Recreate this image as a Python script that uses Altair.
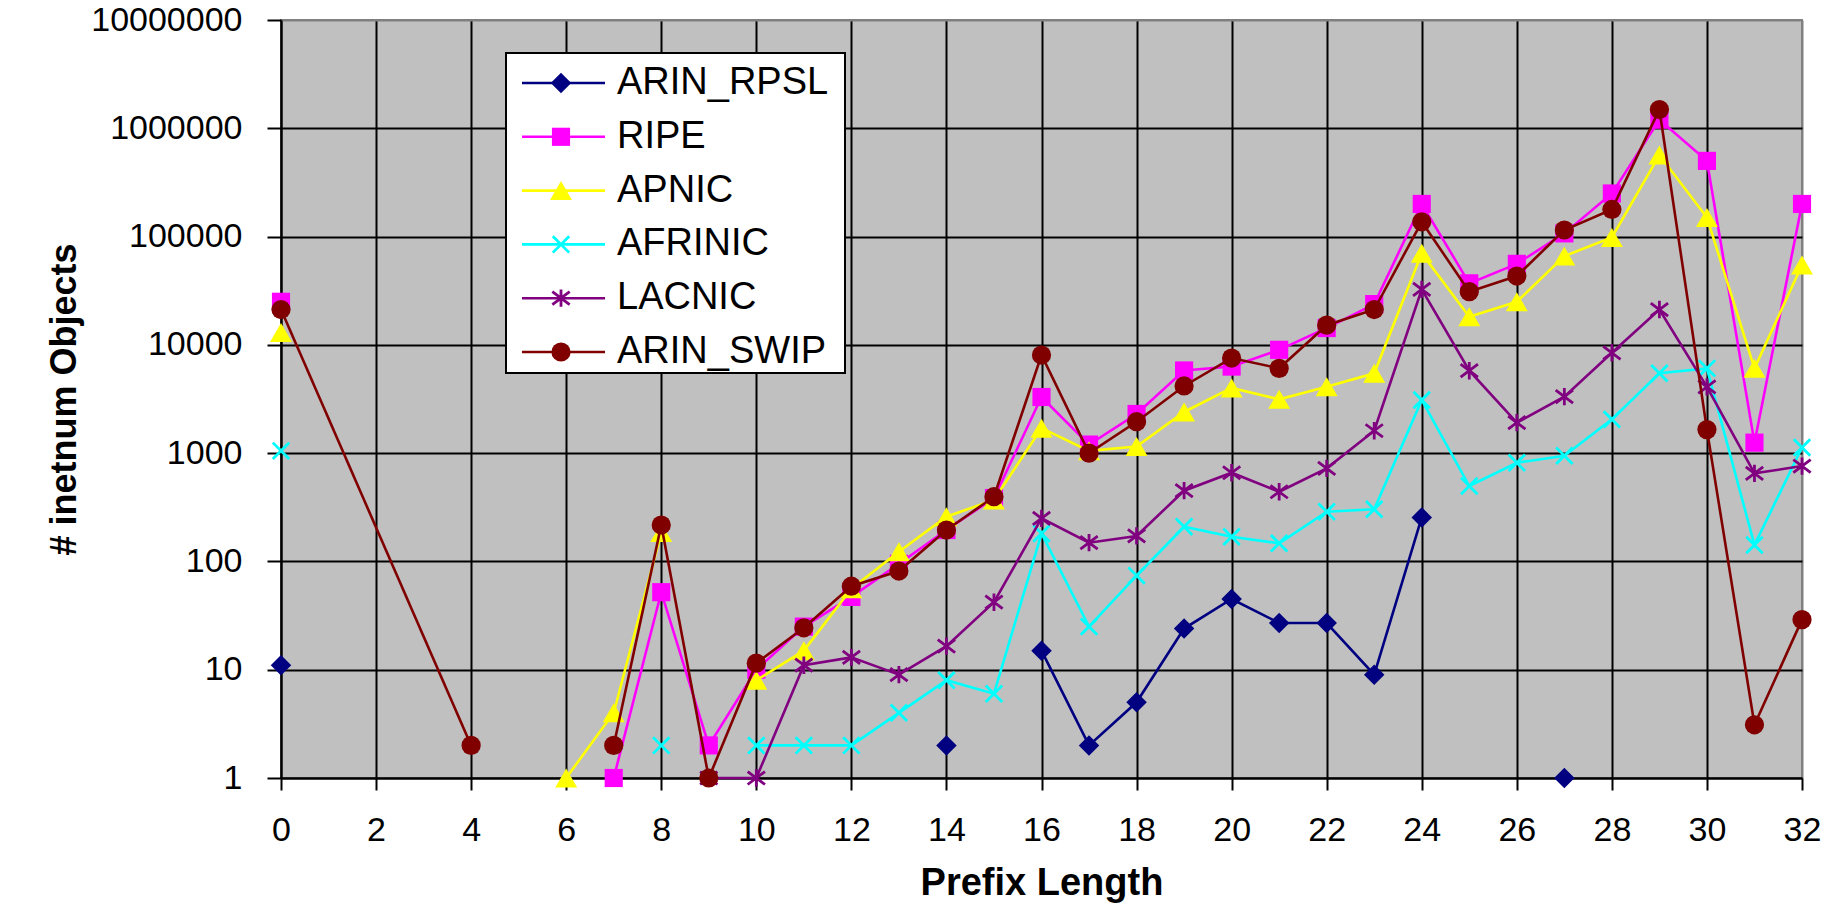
import altair as alt
import pandas as pd

N = None          # empty cell -> gap in the line
NA = "#N/A"       # #N/A cell -> skipped, line bridges across

prefix = list(range(33))
series_names = ["ARIN_RPSL", "RIPE", "APNIC", "AFRINIC", "LACNIC", "ARIN_SWIP"]
colors = ["#000080", "#FF00FF", "#FFFF00", "#00FFFF", "#800080", "#800000"]

arin_rpsl = [11, N, N, N, N, N, N, N, N, N, N, N, N, N, 2, N, 15, 2, 5, 24, 45,
             27, 27, 9, 255, N, N, 1, N, N, N, N, N]
ripe = [25000, N, N, N, N, N, N, 1, 52, 2, 10, 25, 47, 95, 195, 385, 3300, 1200,
        2300, 5800, 6300, 9000, 14300, 23800, 200000, 37000, 56000, 107000, 250000,
        1200000, 500000, 1250, 200000]
apnic = [13000, N, N, N, N, N, 1, 4, 185, N, 8, 15, 56, 123, 259, 370, 1700, 1050,
         1150, 2400, 4000, 3140, 4100, 5460, 70000, 18200, 25000, 66000, 98000,
         566000, 150000, 6070, 54600]
afrinic = [1050, N, N, N, N, N, N, N, 2, N, 2, 2, 2, 4, 8, 6, 181, 25, 74, 209, 169,
           147, 288, 303, 3100, 497, 815, 946, 2050, 5460, 6070, 142, 1128]
lacnic = [N, N, N, N, N, N, N, N, N, 1, 1, 11, 13, 9, 16.5, 42, 250, 149, 172, 450,
          659, 440, 724, 1610, 32500, 5770, 1910, 3320, 8450, 21200, 4100, 650, 760]
arin_swip = [21200, NA, NA, NA, 2, N, N, 2, 217, 1, 11.5, 24.4, 59, 81.5, 195, 396,
             8050, 1000, 1950, 4170, 7550, 6070, 15200, 21200, 137000, 31000, 43200,
             115000, 178000, 1490000, 1650, 3.1, 29]

y_ticks = [1, 10, 100, 1000, 10000, 100000, 1000000, 10000000]
x_ticks = list(range(0, 33, 2))

values = {
    "ARIN_RPSL": arin_rpsl, "RIPE": ripe, "APNIC": apnic,
    "AFRINIC": afrinic, "LACNIC": lacnic, "ARIN_SWIP": arin_swip,
}

rows = []
for name in series_names:
    seg = 0
    for x, v in zip(prefix, values[name]):
        if v is None:
            seg += 1
            continue
        if v == NA:
            continue
        rows.append({"prefix": x, "series": name, "count": v, "seg": seg})
df = pd.DataFrame(rows)

FONT = "Liberation Sans"
LW = 2.6
X_PATH = "M-1,-1L1,1M-1,1L1,-1"
AST_PATH = "M-1,-0.75L1,0.75M-1,0.75L1,-0.75M0,-1L0,1"
marker_style = {
    "ARIN_RPSL": dict(shape="diamond", filled=True, size=420),
    "RIPE": dict(shape="square", filled=True, size=330),
    "APNIC": dict(shape="triangle-up", filled=True, size=480),
    "AFRINIC": dict(shape=X_PATH, filled=False, size=270, strokeWidth=2.8),
    "LACNIC": dict(shape=AST_PATH, filled=False, size=300, strokeWidth=2.8),
    "ARIN_SWIP": dict(shape="circle", filled=True, size=370),
}

X = alt.X(
    "prefix:Q",
    scale=alt.Scale(domain=[0, 32], nice=False, zero=False),
    axis=alt.Axis(
        values=x_ticks, format="d", tickSize=12, labelPadding=50,
        labelBaseline="alphabetic", labelFlush=False, labelOverlap=False,
        title="Prefix Length", titleFontSize=38, titleFontWeight="bold",
        titleY=116, titleBaseline="alphabetic",
        gridColor={"condition": {"test": "datum.value >= 32", "value": "#808080"},
                   "value": "black"},
    ),
)
Y = alt.Y(
    "count:Q",
    scale=alt.Scale(type="log", domain=[1, 10000000], nice=False),
    axis=alt.Axis(
        values=y_ticks, format="d", tickSize=14, labelPadding=25,
        labelOverlap=False, title="# inetnum Objects", titleFontSize=36,
        titleFontWeight="bold", titleX=-206, titleY=379, titleAngle=270,
        titleAlign="center", titleBaseline="alphabetic",
        gridColor={"condition": {"test": "datum.value >= 10000000", "value": "#808080"},
                   "value": "black"},
    ),
)

data_layers = []
for name, color in zip(series_names, colors):
    sub = df[df.series == name]
    base = alt.Chart(sub)
    line = base.mark_line(color=color, strokeWidth=LW).encode(
        x=X, y=Y, detail="seg:N", order="prefix:Q")
    st = marker_style[name]
    pts = base.mark_point(color=color, opacity=1, **st).encode(x=X, y=Y)
    data_layers += [line, pts]
data_group = alt.layer(*data_layers)

# legend drawn inside the plot area
leg_df = pd.DataFrame({"series": series_names})
LY = alt.Y("series:N", scale=alt.Scale(type="point", domain=series_names,
                                         range=[63, 332], padding=0), axis=None)
box = alt.Chart(leg_df.head(1)).mark_rect(fill="white", stroke="black", strokeWidth=2).encode(
    x=alt.value(225), x2=alt.value(564), y=alt.value(33), y2=alt.value(353))
leg_lines = alt.Chart(leg_df).mark_rule(strokeWidth=LW).encode(
    y=LY, x=alt.value(241), x2=alt.value(324),
    color=alt.Color("series:N", scale=alt.Scale(domain=series_names, range=colors), legend=None))
leg_layers = [box, leg_lines]
for name, color in zip(series_names, colors):
    st = marker_style[name]
    leg_layers.append(
        alt.Chart(leg_df[leg_df.series == name]).mark_point(color=color, opacity=1, **st).encode(
            y=LY, x=alt.value(280)))
leg_text = alt.Chart(leg_df).mark_text(align="left", baseline="middle", fontSize=38,
                                        font=FONT, color="black").encode(
    y=LY, x=alt.value(336), text="series:N")
leg_layers.append(leg_text)
legend_group = alt.layer(*leg_layers)

chart = alt.layer(data_group, legend_group).resolve_scale(y="independent").properties(
    width=1521, height=758,
    padding={"left": 281, "top": 20, "right": 27, "bottom": 126},
    autosize=alt.AutoSizeParams(type="none"),
    background="white",
).configure_view(
    fill="#C0C0C0", stroke="#808080", strokeWidth=2,
).configure_axis(
    labelFont=FONT, labelFontSize=34, labelColor="black",
    titleFont=FONT, titleColor="black",
    domainColor="black", domainWidth=2,
    tickColor="black", tickWidth=2,
    grid=True, gridWidth=2,
)

chart.save("out.html", embed_options={"renderer": "svg", "actions": False})
